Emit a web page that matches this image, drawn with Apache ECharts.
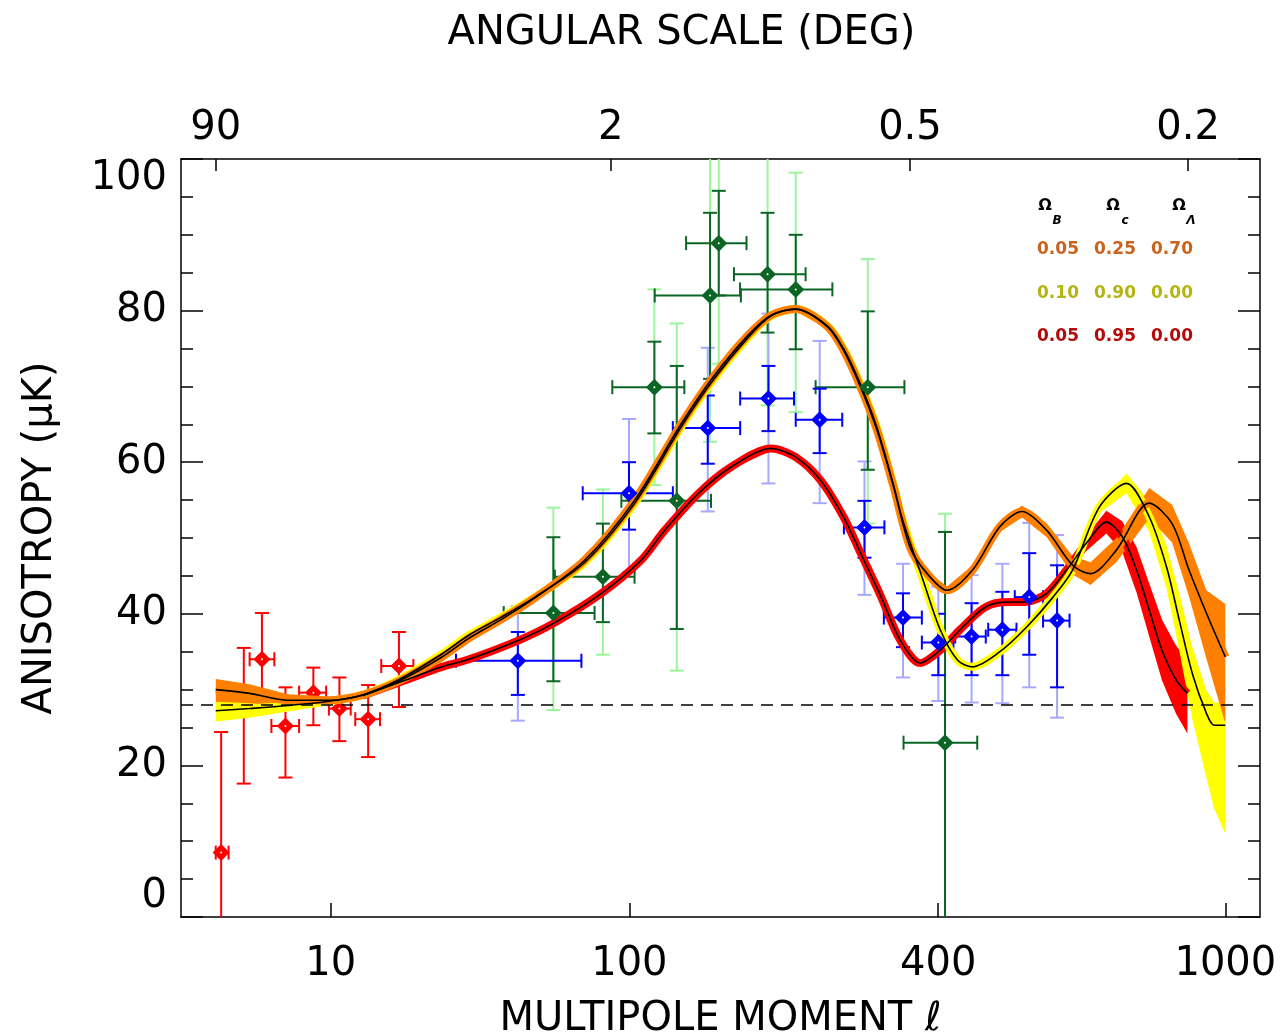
<!DOCTYPE html>
<html>
<head>
<meta charset="utf-8">
<script src="https://cdn.jsdelivr.net/npm/echarts@6/dist/echarts.min.js"></script>
<style>
html, body { margin: 0; padding: 0; background: #fff; }
#chart { width: 1280px; height: 1034px; }
</style>
</head>
<body>
<div id="chart"></div>
<script>
// the l axis of the original is stretched like l^0.3
const POW = 0.3;
function tx(l) { return Math.pow(l, POW); }
function fromTx(v) { return Math.pow(v, 1 / POW); }

const xRange = [1, 1100];
const bottomTicks = [10, 100, 400, 1000];
const topTicksDeg = [90, 2, 0.5, 0.2];
const dashLevel = 28;

// COBE points (red)
const cobeL   = [2.2, 3.2, 4.2, 5.8, 8.2, 11.0, 14.8, 19.8];
const cobeVal = [8.5, 29.3, 34.0, 25.2, 29.6, 27.5, 26.1, 33.1];
const cobeLo  = [-8, 17.6, 28.5, 18.4, 25.3, 23.2, 21.1, 27.7];
const cobeHi  = [24.4, 35.5, 40.1, 30.3, 32.9, 31.6, 30.6, 37.6];
const cobeXlo = [2.0, 3.0, 3.5, 4.8, 6.9, 9.8, 13.0, 16.8];
const cobeXhi = [2.5, 3.4, 5.0, 6.9, 9.5, 12.4, 16.6, 22.5];

// BOOMERANG points (green)
const boomL   = [63.6, 86, 114.6, 128.9, 152.4, 159.0, 199.8, 226.4, 305.6, 410.1];
const boomVal = [40.1, 44.9, 69.9, 54.9, 82.0, 88.9, 84.8, 82.8, 69.9, 23.0];
const boomLo  = [31.1, 38.9, 63.8, 38.0, 71.0, 82.0, 77.1, 74.9, 59.0, -8];
const boomHi  = [50.1, 51.9, 75.9, 72.7, 92.9, 95.8, 92.9, 90.0, 79.9, 50.8];
const boomLo2 = [27.3, 34.6, 57.0, 32.5, 62.7, 73.0, 67.5, 66.6, 51.9, -8];
const boomHi2 = [54.0, 56.4, 82.8, 78.3, 101.3, 104.8, 102.1, 98.2, 86.8, 53.2];
const boomXlo = [45.6, 64.2, 90.8, 95.6, 114.8, 135.2, 171, 176, 246.6, 351.3];
const boomXhi = [81.9, 102.9, 134.0, 153.1, 176.7, 181.4, 236.3, 264.6, 352.5, 460.3];

// MAXIMA points (blue)
const maxL   = [50.3, 99.8, 150.7, 200.6, 250.9, 301.6, 350.6, 400.2, 451.2, 502.3, 550.1, 602.9];
const maxVal = [33.8, 55.9, 64.5, 68.4, 65.6, 51.4, 39.5, 36.2, 37.0, 37.9, 42.2, 39.1];
const maxLo  = [29.3, 51.1, 59.8, 64.1, 61.2, 47.4, 35.6, 31.9, 31.9, 31.9, 34.6, 30.3];
const maxHi  = [37.6, 60.0, 68.8, 72.7, 69.7, 54.9, 42.7, 40.0, 41.4, 42.9, 48.0, 46.4];
const maxLo2 = [25.9, 45.5, 53.5, 57.2, 54.6, 42.5, 31.6, 28.5, 28.3, 28.2, 30.3, 26.3];
const maxHi2 = [41.0, 65.7, 75.1, 79.6, 76.0, 60.1, 46.6, 43.6, 45.1, 46.6, 52.0, 50.4];
const maxXlo = [32, 76.3, 126.3, 176.1, 226.4, 277.5, 325.6, 376.5, 425.5, 478.3, 524, 575.9];
const maxXhi = [75.7, 126.3, 176.1, 224.7, 275.6, 326.3, 376.5, 422.8, 474.3, 527.0, 575.9, 627.6];

// model 0.05 / 0.25 / 0.70 (orange)
const lcdmL   = [2, 3.5, 6, 10, 14, 20, 28.6, 35.4, 45, 56.4, 77.3, 103, 132, 155, 183, 203, 226, 259, 277, 297, 317, 338, 360, 384, 413, 453, 498, 537, 583, 634, 671, 727, 803, 859, 902, 948, 1000];
const lcdmMid = [30.0, 29.5, 28.6, 28.6, 29.3, 31.2, 34.3, 36.8, 39.3, 42.1, 47.1, 55.0, 65.1, 71.3, 76.8, 79.4, 80.2, 77.9, 74.8, 69.9, 64.2, 56.8, 48.8, 45.3, 43.1, 45.8, 51.5, 53.5, 51.0, 46.4, 45.3, 48.4, 54.6, 51.9, 45.8, 40.1, 34.3];
const lcdmDn  = [1.6, 1.3, 0.8, 0.5, 0.3, 0.3, 0.3, 0.3, 0.3, 0.3, 0.3, 0.3, 0.3, 0.3, 0.3, 0.3, 0.3, 0.3, 0.3, 0.3, 0.3, 0.3, 0.3, 0.3, 0.5, 0.6, 0.7, 0.8, 0.9, 1.2, 1.5, 1.6, 2.0, 2.5, 3.5, 6.0, 8.8];
const lcdmUp  = [1.4, 1.2, 0.8, 0.5, 0.3, 0.3, 0.3, 0.3, 0.3, 0.3, 0.3, 0.3, 0.3, 0.3, 0.3, 0.3, 0.3, 0.3, 0.3, 0.3, 0.3, 0.3, 0.3, 0.3, 0.5, 0.6, 0.7, 0.8, 0.9, 1.2, 1.5, 1.6, 2.0, 2.5, 3.5, 3.0, 7.0];

// model 0.10 / 0.90 / 0.00 (yellow)
const yelL   = [2, 3.5, 6, 10, 14, 20, 28.6, 35.4, 45, 56.4, 77.3, 103, 132, 155, 183, 203, 226, 259, 277, 297, 317, 338, 350, 378, 403, 429, 452, 498, 546, 595, 634, 690, 750, 803, 845, 877, 911, 948, 969, 1000];
const yelMid = [27.2, 27.5, 27.9, 28.5, 29.3, 31.4, 34.7, 37.2, 39.6, 42.2, 46.8, 54.6, 64.7, 70.9, 76.5, 79.3, 80.2, 78.0, 75.0, 70.2, 64.5, 57.0, 52.4, 44.5, 37.9, 33.9, 33.0, 35.0, 38.3, 42.2, 45.8, 54.1, 57.2, 52.8, 46.2, 39.2, 32.1, 26.9, 25.3, 25.3];
const yelDn  = [1.4, 1.2, 0.8, 0.5, 0.3, 0.3, 0.3, 0.3, 0.3, 0.3, 0.3, 0.3, 0.3, 0.3, 0.3, 0.3, 0.3, 0.3, 0.3, 0.3, 0.3, 0.3, 0.3, 0.3, 0.3, 0.3, 0.3, 0.3, 0.3, 0.3, 0.3, 0.8, 1.3, 2.0, 2.8, 4.0, 6.0, 8.5, 11.0, 14.3];
const yelUp  = [1.4, 1.2, 0.8, 0.5, 0.3, 0.3, 0.3, 0.3, 0.3, 0.3, 0.3, 0.3, 0.3, 0.3, 0.3, 0.3, 0.3, 0.3, 0.3, 0.3, 0.3, 0.3, 0.3, 0.3, 0.3, 0.3, 0.3, 0.3, 0.3, 0.3, 0.3, 0.8, 1.3, 2.0, 2.8, 3.5, 3.5, 3.0, 3.0, 3.0];

// model 0.05 / 0.95 / 0.00 (red), hidden under the others below l=14
const redL   = [14, 20.4, 28.6, 35.4, 50.6, 64, 85.3, 106.8, 121, 144, 169, 203, 226, 252, 277, 297, 321, 347, 374, 403, 433, 470, 498, 546, 583, 622, 662, 705, 740, 773, 803, 834, 869, 898];
const redMid = [29.2, 31.1, 33.0, 34.0, 36.5, 38.8, 42.7, 47.1, 51.0, 55.9, 59.4, 61.8, 60.7, 57.6, 52.8, 48.0, 42.5, 36.5, 33.5, 35.2, 37.9, 40.7, 41.5, 41.6, 42.7, 45.8, 49.3, 52.1, 50.2, 45.8, 40.5, 35.2, 31.3, 29.5];
const redDn  = [0.3, 0.3, 0.3, 0.3, 0.3, 0.3, 0.3, 0.3, 0.3, 0.3, 0.3, 0.3, 0.3, 0.3, 0.3, 0.3, 0.3, 0.3, 0.3, 0.3, 0.3, 0.3, 0.3, 0.3, 0.4, 0.7, 1.0, 1.5, 2.0, 3.0, 3.5, 4.0, 4.5, 5.3];
const redUp  = [0.3, 0.3, 0.3, 0.3, 0.3, 0.3, 0.3, 0.3, 0.3, 0.3, 0.3, 0.3, 0.3, 0.3, 0.3, 0.3, 0.3, 0.3, 0.3, 0.3, 0.3, 0.3, 0.3, 0.3, 0.4, 0.7, 1.0, 1.5, 2.0, 3.0, 3.5, 4.0, 4.5, 4.4];

// parameter table in the corner
const omegaB = ['0.05', '0.10', '0.05'];
const omegaC = ['0.25', '0.90', '0.95'];
const omegaL = ['0.70', '0.00', '0.00'];
const tableColors = ['#c8641e', '#b4b414', '#b40a0a'];

const FONT = 'DejaVu Sans';
const Y_MIN = 0, Y_MAX = 100;
const CAP = 7;

function seg(x1, y1, x2, y2, st) {
  return { type: 'line', shape: { x1: x1, y1: y1, x2: x2, y2: y2 }, style: st };
}

// error bars: vertical always, horizontal only when xlo/xhi given
function errorBars(L, V, LO, HI, XLO, XHI, color, z) {
  const withX = !!XLO;
  const rows = L.map((l, i) => [tx(l), V[i], LO[i], HI[i],
    withX ? tx(XLO[i]) : tx(l), withX ? tx(XHI[i]) : tx(l)]);
  return {
    type: 'custom', z: z, silent: true,
    data: rows,
    encode: { x: 0, y: 1 },
    renderItem: function (params, api) {
      const x = api.value(0), y = api.value(1);
      const lo = api.value(2), hi = api.value(3);
      const st = { stroke: color, lineWidth: 2 };
      const kids = [];
      const b = api.coord([x, Math.max(lo, Y_MIN)]);
      const t = api.coord([x, Math.min(hi, Y_MAX)]);
      kids.push(seg(b[0], b[1], t[0], t[1], st));
      if (lo >= Y_MIN) kids.push(seg(b[0] - CAP, b[1], b[0] + CAP, b[1], st));
      if (hi <= Y_MAX) kids.push(seg(t[0] - CAP, t[1], t[0] + CAP, t[1], st));
      if (withX) {
        const l = api.coord([api.value(4), y]);
        const r = api.coord([api.value(5), y]);
        kids.push(seg(l[0], l[1], r[0], r[1], st));
        kids.push(seg(l[0], l[1] - CAP, l[0], l[1] + CAP, st));
        kids.push(seg(r[0], r[1] - CAP, r[0], r[1] + CAP, st));
      }
      return { type: 'group', children: kids };
    }
  };
}

function markers(L, V, color, z) {
  return {
    type: 'scatter', z: z, silent: true, symbol: 'diamond', symbolSize: 17,
    itemStyle: { color: color, opacity: 1 },
    data: L.map((l, i) => [tx(l), V[i]])
  };
}

function dots(L, V, z) {
  return {
    type: 'scatter', z: z, silent: true, symbol: 'circle', symbolSize: 2,
    itemStyle: { color: '#fff', opacity: 1 },
    data: L.map((l, i) => [tx(l), V[i]])
  };
}

// filled band of a model curve
function band(L, mid, dn, up, color, z) {
  const rows = L.map((l, i) => [tx(l), mid[i] - dn[i], mid[i] + up[i]]);
  return {
    type: 'custom', z: z, silent: true,
    data: rows,
    encode: { x: 0, y: [1, 2] },
    renderItem: function (params, api) {
      if (params.dataIndex !== 0) return null;
      const upper = rows.map(r => api.coord([r[0], r[2]]));
      const lower = rows.map(r => api.coord([r[0], r[1]])).reverse();
      return { type: 'polygon', shape: { points: upper.concat(lower) }, style: { fill: color } };
    }
  };
}

function curve(L, mid, color, width, z) {
  return {
    type: 'line', z: z, silent: true, symbol: 'none', smooth: 0.3,
    lineStyle: { color: color, width: width },
    data: L.map((l, i) => [tx(l), mid[i]])
  };
}

const ORANGE = '#ff8000', YELLOW = '#ffff00', RED = '#ff0000';
const DKGREEN = '#0b6626', LTGREEN = '#9cf59c', BLUE = '#0000ff', LTBLUE = '#a8a8ff';

const redLine = curve(redL, redMid, '#000', 1.6, 4);
redLine.markLine = {
  silent: true, symbol: 'none', label: { show: false },
  lineStyle: { color: '#000', width: 1.5, type: [12, 8] },
  data: [{ yAxis: dashLevel }]
};

const series = [
  errorBars(cobeL, cobeVal, cobeLo, cobeHi, cobeXlo, cobeXhi, RED, 1),
  markers(cobeL, cobeVal, RED, 1),
  dots(cobeL, cobeVal, 1),

  errorBars(boomL, boomVal, boomLo2, boomHi2, null, null, LTGREEN, 2),
  errorBars(maxL, maxVal, maxLo2, maxHi2, null, null, LTBLUE, 2),
  errorBars(boomL, boomVal, boomLo, boomHi, boomXlo, boomXhi, DKGREEN, 2),
  errorBars(maxL, maxVal, maxLo, maxHi, maxXlo, maxXhi, BLUE, 2),

  band(redL, redMid, redDn, redUp, RED, 3),
  curve(redL, redMid, RED, 8, 3),
  band(yelL, yelMid, yelDn, yelUp, YELLOW, 3),
  curve(yelL, yelMid, YELLOW, 8, 3),
  band(lcdmL, lcdmMid, lcdmDn, lcdmUp, ORANGE, 3),
  curve(lcdmL, lcdmMid, ORANGE, 8, 3),

  redLine,
  curve(yelL, yelMid, '#000', 1.6, 4),
  curve(lcdmL, lcdmMid, '#000', 1.6, 4),

  markers(maxL, maxVal, BLUE, 5),
  markers(boomL, boomVal, DKGREEN, 5),
  dots(maxL, maxVal, 5),
  dots(boomL, boomVal, 5)
];

// corner table as text
const graphics = [];
const heads = [['B', 1045], ['c', 1113], ['Λ', 1179]];
heads.forEach(h => {
  graphics.push({ type: 'text', x: h[1], y: 206, style: { text: 'Ω', font: 'bold 16px ' + FONT, fill: '#000', align: 'center', verticalAlign: 'middle' } });
  graphics.push({ type: 'text', x: h[1] + 12, y: 221, style: { text: h[0], font: 'italic bold 12px ' + FONT, fill: '#000', align: 'center', verticalAlign: 'middle' } });
});
const rowsY = [250, 294, 337];
const colsX = [1058, 1115, 1172];
[omegaB, omegaC, omegaL].forEach((col, c) => {
  col.forEach((txt, r) => {
    graphics.push({ type: 'text', x: colsX[c], y: rowsY[r], style: { text: txt, font: 'bold 17px ' + FONT, fill: tableColors[r], align: 'center', verticalAlign: 'middle' } });
  });
});

const axisFont = { fontFamily: FONT, fontSize: 40, color: '#000' };
const frameLine = { show: true, onZero: false, lineStyle: { color: '#000', width: 1.5 } };

const option = {
  animation: false,
  backgroundColor: '#fff',
  grid: { left: 181, right: 20, top: 159, bottom: 117, outerBoundsMode: 'none' },
  xAxis: [
    {
      type: 'value', position: 'bottom', min: tx(xRange[0]), max: tx(xRange[1]),
      name: 'MULTIPOLE MOMENT ℓ', nameLocation: 'middle', nameGap: 83, nameTextStyle: axisFont,
      axisLine: frameLine,
      axisTick: { inside: true, length: 14, lineStyle: { color: '#000', width: 1.5 }, customValues: bottomTicks.map(tx) },
      axisLabel: Object.assign({ margin: 28, customValues: bottomTicks.map(tx),
        formatter: v => String(Math.round(fromTx(v))) }, axisFont),
      splitLine: { show: false }
    },
    {
      type: 'value', position: 'top', min: tx(xRange[0]), max: tx(xRange[1]),
      name: 'ANGULAR SCALE (DEG)', nameLocation: 'middle', nameGap: 105,
      nameTextStyle: Object.assign({ padding: [0, 78, 0, 0] }, axisFont),
      axisLine: frameLine,
      axisTick: { inside: true, length: 12, lineStyle: { color: '#000', width: 1.5 }, customValues: topTicksDeg.map(d => tx(180 / d)) },
      axisLabel: Object.assign({ margin: 10, customValues: topTicksDeg.map(d => tx(180 / d)),
        formatter: v => String(Number((180 / fromTx(v)).toPrecision(2))) }, axisFont),
      splitLine: { show: false }
    }
  ],
  yAxis: [
    {
      type: 'value', position: 'left', min: Y_MIN, max: Y_MAX, interval: 20,
      name: 'ANISOTROPY (μK)', nameLocation: 'middle', nameGap: 120, nameTextStyle: axisFont,
      axisLine: frameLine,
      axisTick: { inside: true, length: 22, lineStyle: { color: '#000', width: 1.5 } },
      minorTick: { show: true, splitNumber: 4, length: 12, lineStyle: { color: '#000', width: 1.5 } },
      axisLabel: Object.assign({ margin: 14, verticalAlignMinLabel: 'bottom', verticalAlignMaxLabel: 'top' }, axisFont),
      splitLine: { show: false }
    },
    {
      type: 'value', position: 'right', min: Y_MIN, max: Y_MAX, interval: 20,
      axisLine: frameLine,
      axisTick: { inside: true, length: 22, lineStyle: { color: '#000', width: 1.5 } },
      minorTick: { show: true, splitNumber: 4, length: 12, lineStyle: { color: '#000', width: 1.5 } },
      axisLabel: { show: false },
      splitLine: { show: false }
    }
  ],
  graphic: graphics,
  series: series
};

const chart = echarts.init(document.getElementById('chart'));
chart.setOption(option);
</script>
</body>
</html>
